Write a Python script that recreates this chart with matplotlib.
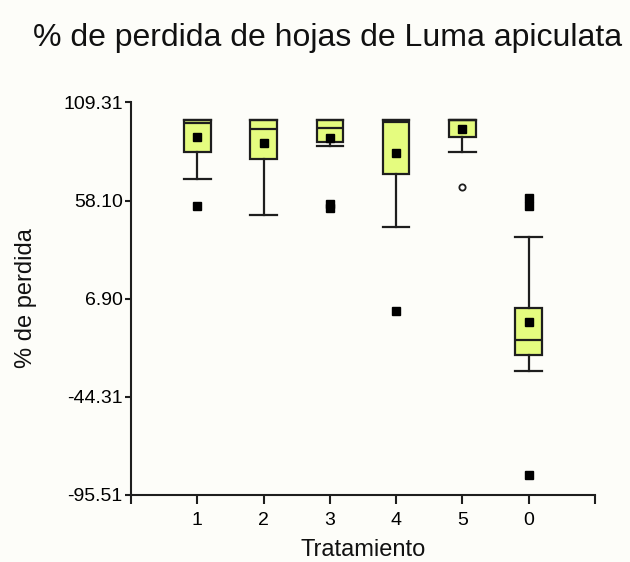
import matplotlib
matplotlib.use("Agg")
import matplotlib.pyplot as plt

plt.rcParams['font.family'] = ['Liberation Sans', 'DejaVu Sans']

# data (percent of leaves lost per treatment)
tratamientos = ['1', '2', '3', '4', '5', '0']
q1 = [83.6, 79.7, 88.9, 72.0, 91.5, -22.5]
medianas = [98.5, 95.3, 95.9, 99.2, 100.0, -14.6]
q3 = [100.0, 100.0, 100.0, 100.0, 100.0, 2.1]
bigote_inf = [69.2, 50.6, 86.6, 44.2, 83.6, -30.8]
bigote_sup = [100.0, 100.0, 100.0, 100.0, 100.0, 39.1]
medias = [91.2, 88.0, 90.6, 83.1, 95.5, -5.6]

# outliers: filled squares and open circles
atipicos_x = [1, 3, 3, 4, 6, 6, 6]
atipicos_y = [55.3, 56.1, 54.1, 0.5, 59.2, 55.0, -85.1]
circulos_x = [5]
circulos_y = [65.4]

yticks = [109.31, 58.10, 6.90, -44.31, -95.51]

fondo = '#fdfdf9'
relleno = '#e5fc7f'
negro = '#1e1e1e'

fig = plt.figure(figsize=(6.3, 5.62), dpi=100, facecolor=fondo)
ax = fig.add_axes([131/630, 1 - 494.5/562, (595-131)/630, (494.5-102.5)/562])
ax.set_facecolor(fondo)

stats = []
for i in range(len(tratamientos)):
    stats.append({'q1': q1[i], 'med': medianas[i], 'q3': q3[i],
                  'whislo': bigote_inf[i], 'whishi': bigote_sup[i],
                  'mean': medias[i], 'fliers': []})

pos = list(range(1, len(tratamientos) + 1))
ax.bxp(stats, positions=pos, widths=0.4, capwidths=0.4, patch_artist=True,
       showmeans=True, showfliers=False,
       boxprops=dict(facecolor=relleno, edgecolor=negro, linewidth=1.6),
       medianprops=dict(color=negro, linewidth=1.6),
       whiskerprops=dict(color=negro, linewidth=1.6),
       capprops=dict(color=negro, linewidth=1.6),
       meanprops=dict(marker='s', markerfacecolor='black', markeredgecolor='black',
                      markersize=5.5))

ax.plot(atipicos_x, atipicos_y, 's', color='black', markersize=5.5, linestyle='none')
ax.plot(circulos_x, circulos_y, 'o', markerfacecolor='white', markeredgecolor=negro,
        markersize=4.5, markeredgewidth=1.3, linestyle='none')

ax.set_xlim(0, 7)
ax.set_ylim(-95.51, 109.31)
ax.set_xticks([0] + pos + [7])
ax.set_xticklabels([''] + tratamientos + [''])
ax.set_yticks(yticks)
ax.set_yticklabels(['%.2f' % v for v in yticks])

for s in ['top', 'right']:
    ax.spines[s].set_visible(False)
for s in ['left', 'bottom']:
    ax.spines[s].set_color(negro)
    ax.spines[s].set_linewidth(1.5)
ax.tick_params(axis='x', length=6.5, width=1.5, color=negro, labelsize=14, pad=6)
ax.tick_params(axis='y', length=4, width=1.5, color=negro, labelsize=14, pad=2)

ax.set_xlabel('Tratamiento', fontsize=17, labelpad=7, color='#111111')
ax.set_ylabel('% de perdida', fontsize=17, labelpad=19, color='#111111')
fig.text(0.52, 1 - 38/562, '% de perdida de hojas de Luma apiculata', fontsize=23,
         ha='center', va='center', color='#111111')

fig.savefig('out.png', dpi=100, facecolor=fondo)
